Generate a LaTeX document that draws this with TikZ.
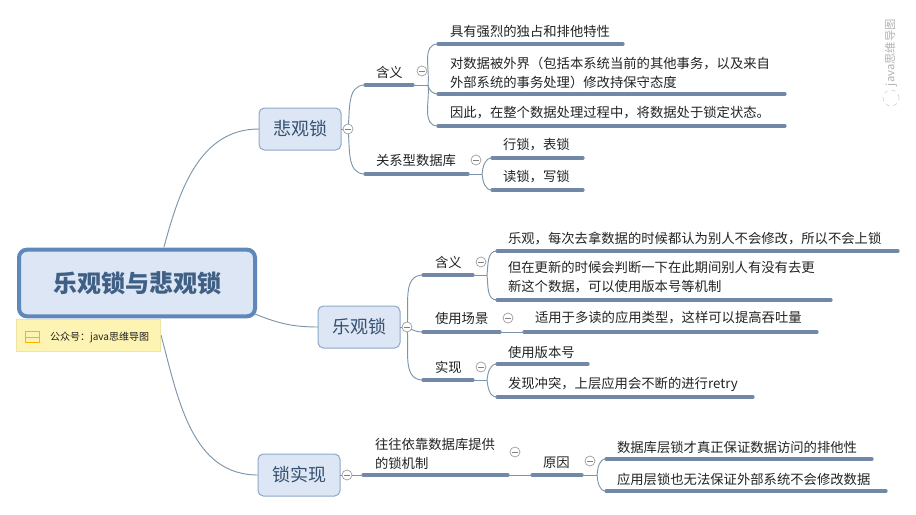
\documentclass[tikz,border=0pt]{standalone}
\usepackage{fontspec}
\setmainfont{Noto Sans CJK SC}
\definecolor{rootfill}{HTML}{DCE6F4}
\definecolor{rootline}{HTML}{5F88BA}
\definecolor{roottext}{HTML}{3F5F85}
\definecolor{boxline}{HTML}{8FA9C9}
\definecolor{barcol}{HTML}{7189A6}
\definecolor{thincol}{HTML}{7C95AA}
\definecolor{notefill}{HTML}{FDF3B2}
\definecolor{noteline}{HTML}{EFE3A8}
\definecolor{txt}{HTML}{222222}
\newcommand{\minusmark}{\rule{4.2pt}{.55pt}}
\tikzset{
  every node/.style={inner sep=0pt,outer sep=0pt},
  rootbox/.style={draw=rootline,line width=3pt,fill=rootfill,rounded corners=6pt,minimum width=177pt,minimum height=50pt,text=roottext,font=\fontsize{18}{22}\selectfont\bfseries},
  mainbox/.style={draw=boxline,line width=.75pt,fill=rootfill,rounded corners=4pt,minimum width=61.5pt,minimum height=31.5pt,text=roottext!85!black,font=\fontsize{13.5}{16}\selectfont},
  notebox/.style={draw=noteline,line width=.5pt,fill=notefill,minimum width=108pt,minimum height=24pt},
  lab/.style={anchor=west,align=left,text=txt,font=\fontsize{10}{14.25}\selectfont},
  topicbar/.style={draw=barcol,line width=2.4pt,line cap=round},
  link/.style={draw=thincol,line width=.7pt},
  fold/.style={circle,draw=gray!80,line width=.5pt,fill=white,minimum size=7.5pt,text=gray},
  upc/.style={link,out=83,in=180},
  dnc/.style={link,out=-83,in=180},
}
\newcommand{\barat}[4]{% name, x1, x2, y
  \coordinate (#1s) at (#2,#4);
  \coordinate (#1e) at (#3,#4);
  \draw[topicbar] (#1s) -- (#1e);}
\begin{document}
\begin{tikzpicture}[x=0.75pt,y=-0.75pt]
\useasboundingbox (0,0) rectangle (916,514);
% central nodes
\coordinate (rootA) at (164,247);
\coordinate (rootB) at (255,314);
\coordinate (rootC) at (161,335);
\node[mainbox] (pess) at (300,129) {悲观锁};
\node[mainbox] (opt) at (359,327) {乐观锁};
\node[mainbox] (impl) at (299,475) {锁实现};
\draw[link] (rootA) to[out=75,in=180] (pess.west);
\draw[link] (rootB) to[out=-22,in=180] (opt.west);
\draw[link] (rootC) to[out=-75,in=180] (impl.west);
\node[rootbox] (root) at (137,283) {乐观锁与悲观锁};
\node[notebox,anchor=north west] (note) at (16,319) {};
\node[draw=orange!60!yellow,line width=.5pt,minimum width=10.5pt,minimum height=8.5pt] (noteicon) at (32,337) {};
\draw[orange!60!yellow,line width=.5pt] (noteicon.west) -- (noteicon.east);
\node[anchor=west,text=txt,font=\fontsize{7.5}{9}\selectfont] (notetext) at (50,337) {公众号：java思维导图};
% pessimistic
\barat{a}{365}{413}{85}
\barat{b}{365}{468}{174}
\draw[upc] (348,129) to (as);
\draw[dnc] (348,129) to (bs);
\node[fold] (f1) at (348,129) {\minusmark};
\draw[link] (pess.east) -- (f1);
\coordinate (ah) at (428,85);
\draw[link] (ae) -- (ah);
\node[lab] (ta) at (376,72) {含义};
\node[fold] (f2) at (422,71) {\minusmark};
\barat{a1}{438}{623}{44}
\barat{a2}{438}{785}{94}
\barat{a3}{438}{785}{126}
\draw[upc] (ah) to (a1s);
\draw[dnc] (ah) to (a2s);
\draw[dnc] (ah) to (a3s);
\node[lab] (ta1) at (450,31) {具有强烈的独占和排他特性};
\node[lab] (ta2) at (450,72.5) {对数据被外界（包括本系统当前的其他事务，以及来自\\外部系统的事务处理）修改持保守态度};
\node[lab] (ta3) at (450,113) {因此，在整个数据处理过程中，将数据处于锁定状态。};
\node[lab] (tb) at (376,160) {关系型数据库};
\node[fold] (f3) at (476,160) {\minusmark};
\coordinate (bh) at (482,174);
\draw[link] (be) -- (bh);
\barat{b1}{492}{583}{158}
\barat{b2}{492}{583}{190}
\draw[upc] (bh) to (b1s);
\draw[dnc] (bh) to (b2s);
\node[lab] (tb1) at (503,145) {行锁，表锁};
\node[lab] (tb2) at (503,177) {读锁，写锁};
% optimistic
\barat{c}{423}{473}{275}
\barat{d}{423}{500}{332}
\barat{e}{423}{473}{380}
\draw[upc] (407,327) to (cs);
\draw[link] (407,327) to[out=-30,in=180] (ds);
\draw[dnc] (407,327) to (es);
\node[fold] (f4) at (407,327) {\minusmark};
\draw[link] (opt.east) -- (f4);
\node[lab] (tc) at (435,262) {含义};
\node[fold] (f5) at (481,262) {\minusmark};
\coordinate (ch) at (487,275);
\draw[link] (ce) -- (ch);
\barat{c1}{497}{898}{251}
\barat{c2}{497}{831}{300}
\draw[upc] (ch) to (c1s);
\draw[dnc] (ch) to (c2s);
\node[lab] (tc1) at (508,238) {乐观，每次去拿数据的时候都认为别人不会修改，所以不会上锁};
\node[lab] (tc2) at (508,277.5) {但在更新的时候会判断一下在此期间别人有没有去更\\新这个数据，可以使用版本号等机制};
\node[lab] (td) at (435,318) {使用场景};
\node[fold] (f6) at (508,318) {\minusmark};
\barat{d1}{524}{817}{332}
\draw[link] (de) -- (d1s);
\node[lab] (td1) at (535,318) {适用于多读的应用类型，这样可以提高吞吐量};
\node[lab] (te) at (435,367) {实现};
\node[fold] (f7) at (481,367) {\minusmark};
\coordinate (eh) at (487,380);
\draw[link] (ee) -- (eh);
\barat{e1}{497}{588}{364}
\barat{e2}{497}{753}{397}
\draw[upc] (eh) to (e1s);
\draw[dnc] (eh) to (e2s);
\node[lab] (te1) at (508,352) {使用版本号};
\node[lab] (te2) at (508,384) {发现冲突，上层应用会不断的进行retry};
% implementation
\node[fold] (f8) at (347,475) {\minusmark};
\draw[link] (impl.east) -- (f8);
\barat{g}{363}{508}{475}
\draw[link] (f8) -- (gs);
\node[lab] (tg) at (375,453.5) {往往依靠数据库提供\\的锁机制};
\node[fold] (f9) at (515,452) {\minusmark};
\barat{h}{532}{582}{475}
\draw[link] (ge) -- (hs);
\node[lab] (th) at (543,463) {原因};
\node[fold] (f10) at (590,461) {\minusmark};
\coordinate (hh) at (597,475);
\draw[link] (he) -- (hh);
\barat{h1}{606}{872}{459}
\barat{h2}{606}{886}{491}
\draw[upc] (hh) to (h1s);
\draw[dnc] (hh) to (h2s);
\node[lab] (th1) at (617,447) {数据库层锁才真正保证数据访问的排他性};
\node[lab] (th2) at (617,479) {应用层锁也无法保证外部系统不会修改数据};
% watermark
\node[rotate=90,anchor=west,text=gray!60,font=\fontsize{8.5}{10}\selectfont] (wm) at (891,86) {java思维导图};
\node[circle,draw=gray!35,dashed,line width=.5pt,minimum size=12pt] (wmicon) at (891,98) {};
\end{tikzpicture}
\end{document}
